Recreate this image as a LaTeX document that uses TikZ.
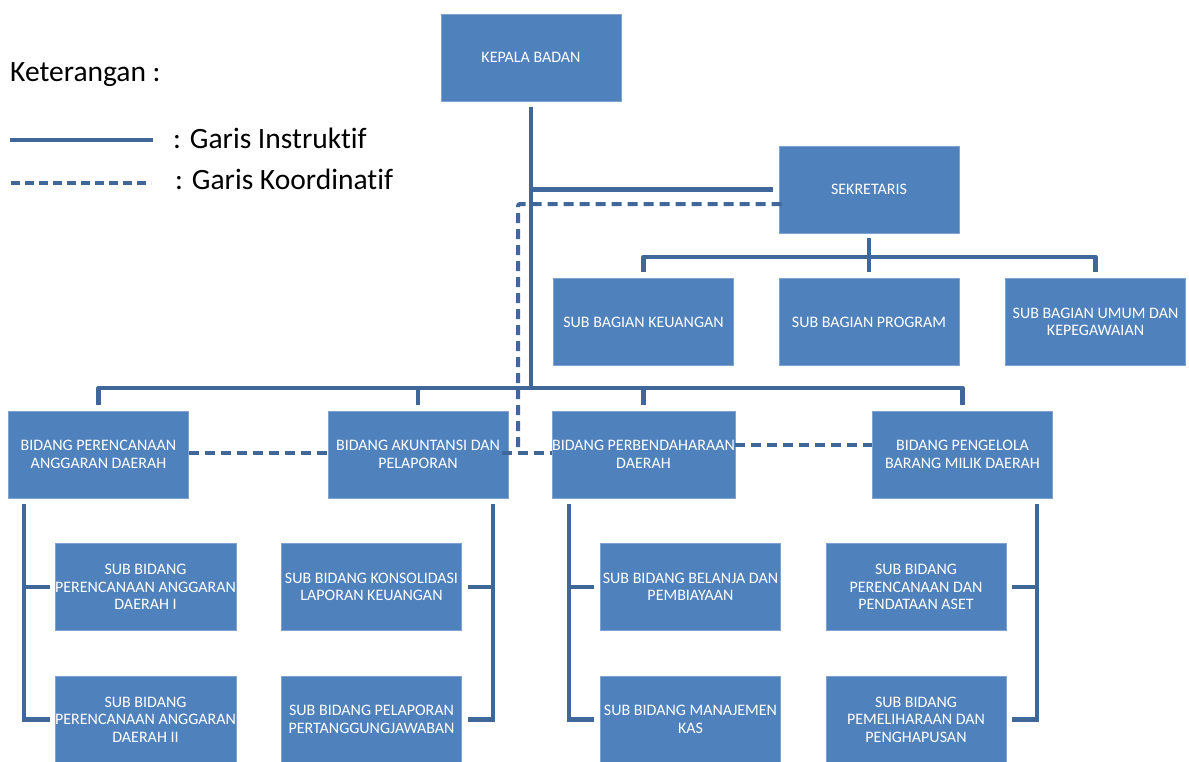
\documentclass[tikz,border=0pt]{standalone}
\usepackage{fontspec}
\setmainfont{Carlito}[Ligatures=NoCommon]
\usetikzlibrary{calc}
\definecolor{boxfill}{HTML}{4F81BD}
\definecolor{boxedge}{HTML}{7FA2D0}
\definecolor{linecol}{HTML}{40679A}
\tikzset{
  orgbox/.style={rectangle, fill=boxfill, draw=boxedge, line width=0.6pt,
    minimum width=180pt, minimum height=87pt, inner sep=0pt, align=center,
    text=white, font=\fontsize{16}{17.5}\selectfont},
  solidline/.style={draw=linecol, line width=4.5pt},
  dashline/.style={draw=linecol, line width=4pt, dash pattern=on 10pt off 6pt},
  legendtext/.style={anchor=base west, inner sep=0pt, font=\fontsize{29.5}{33}\selectfont}
}
\begin{document}
\begin{tikzpicture}[x=1pt,y=-1pt]
\useasboundingbox (0,0) rectangle (1189,761);
\clip (0,0) rectangle (1189,761);

% legend
\node[legendtext] (ket) at (10,81) {Keterangan :};
\coordinate (ls1) at (10,140); \coordinate (ls2) at (153,140);
\coordinate (ld1) at (11,183); \coordinate (ld2) at (151,183);
\draw[solidline] (ls1) -- (ls2);
\draw[dashline, dash pattern=on 9pt off 5pt] (ld1) -- (ld2);
\node[legendtext] (li) at (173,148) {: Garis Instruktif};
\node[legendtext] (lk) at (175,189) {: Garis Koordinatif};

% boxes
\node[orgbox] (kepala) at (531,57.5) {KEPALA BADAN};
\node[orgbox] (sek) at (869,189.5) {SEKRETARIS};
\node[orgbox] (sbk) at (643.5,322) {SUB BAGIAN KEUANGAN};
\node[orgbox] (sbp) at (869,322) {SUB BAGIAN PROGRAM};
\node[orgbox] (sbu) at (1095.5,322) {SUB BAGIAN UMUM DAN\\KEPEGAWAIAN};

\node[orgbox] (b1) at (98.5,454.5) {BIDANG PERENCANAAN\\ANGGARAN DAERAH};
\node[orgbox] (b2) at (418,454.5) {BIDANG AKUNTANSI DAN\\PELAPORAN};
\node[orgbox] (b3) at (643.5,454.5) {BIDANG PERBENDAHARAAN\\DAERAH};
\node[orgbox] (b4) at (962.5,454.5) {BIDANG PENGELOLA\\BARANG MILIK DAERAH};

\node[orgbox] (s11) at (145.5,587) {SUB BIDANG\\PERENCANAAN ANGGARAN\\DAERAH I};
\node[orgbox] (s12) at (145.5,719.5) {SUB BIDANG\\PERENCANAAN ANGGARAN\\DAERAH II};
\node[orgbox] (s21) at (371.5,587) {SUB BIDANG KONSOLIDASI\\LAPORAN KEUANGAN};
\node[orgbox] (s22) at (371.5,719.5) {SUB BIDANG PELAPORAN\\PERTANGGUNGJAWABAN};
\node[orgbox] (s31) at (690.5,587) {SUB BIDANG BELANJA DAN\\PEMBIAYAAN};
\node[orgbox] (s32) at (690.5,719.5) {SUB BIDANG MANAJEMEN\\KAS};
\node[orgbox] (s41) at (916,587) {SUB BIDANG\\PERENCANAAN DAN\\PENDATAAN ASET};
\node[orgbox] (s42) at (916,719.5) {SUB BIDANG\\PEMELIHARAAN DAN\\PENGHAPUSAN};

% main trunk
\coordinate (bus3) at (531,388);
\draw[solidline] ($(kepala.south)+(0,6)$) -- (bus3);
\draw[solidline] (bus3 |- sek.west) -- ($(sek.west)-(6,0)$);

% sekretaris to sub bagian
\coordinate (bus2) at (869,257);
\draw[solidline] ($(sek.south)+(0,5)$) -- ($(sbp.north)-(0,6)$);
\draw[solidline, line join=round] ($(sbk.north)-(0,6)$) -- (sbk.north |- bus2) -- (sbu.north |- bus2) -- ($(sbu.north)-(0,6)$);

% level 3 bus
\draw[solidline, line join=round] ($(b1.north)-(0,6)$) -- (b1.north |- bus3) -- (b4.north |- bus3) -- ($(b4.north)-(0,6)$);
\draw[solidline] (b2.north |- bus3) -- ($(b2.north)-(0,6)$);
\draw[solidline] (b3.north |- bus3) -- ($(b3.north)-(0,6)$);

% coordination (dashed)
\coordinate (dv) at (518,453);
\draw[dashline, rounded corners=2pt] ($(sek.west)+(3,14.5)$) -| (dv);
\draw[dashline] (b1.east |- dv) -- (b2.west |- dv);
\draw[dashline] ($(b2.east |- dv)+(-6,0)$) -- (b3.west |- dv);
\draw[dashline] ($(b3.east)+(0,-9.5)$) -- ($(b4.west)+(0,-9.5)$);

% brackets level 4
\coordinate (k1) at (24,504);
\draw[solidline] (k1) -- (k1 |- s12) -- ($(s12.west)-(5,0)$);
\draw[solidline] (k1 |- s11) -- ($(s11.west)-(5,0)$);

\coordinate (k2) at (493,504);
\draw[solidline] (k2) -- (k2 |- s22) -- ($(s22.east)+(6,0)$);
\draw[solidline] (k2 |- s21) -- ($(s21.east)+(6,0)$);

\coordinate (k3) at (569,504);
\draw[solidline] (k3) -- (k3 |- s32) -- ($(s32.west)-(6,0)$);
\draw[solidline] (k3 |- s31) -- ($(s31.west)-(6,0)$);

\coordinate (k4) at (1037,504);
\draw[solidline] (k4) -- (k4 |- s42) -- ($(s42.east)+(6,0)$);
\draw[solidline] (k4 |- s41) -- ($(s41.east)+(6,0)$);
\end{tikzpicture}
\end{document}
